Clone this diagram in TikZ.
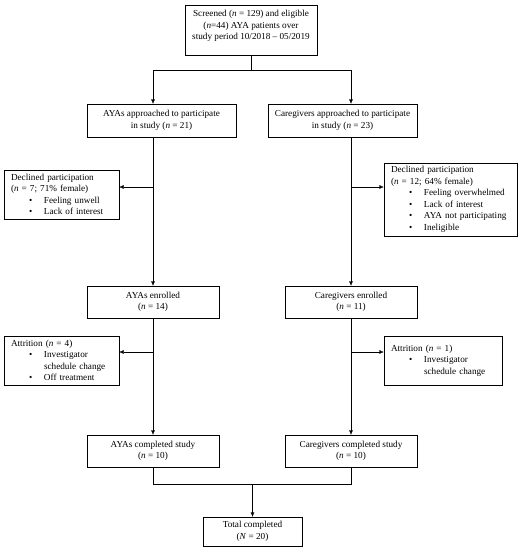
\documentclass[tikz,border=0pt]{standalone}
\usepackage{fontspec}
\setmainfont{Liberation Serif}
\usepackage{tikz}
\usetikzlibrary{arrows.meta}

\newcommand{\bitem}[1]{\hspace*{18pt}\makebox[15pt][l]{\textbullet}#1}
\newcommand{\bmore}[1]{\hspace*{33pt}#1}

\tikzset{
    box/.style = {draw, rectangle, inner sep=2pt, align=center},
    listbox/.style = {draw, rectangle, inner xsep=7pt, inner ysep=2pt, align=left},
}

\begin{document}
\begin{tikzpicture}[x=1pt, y=-1pt, font=\fontsize{9.2}{11.5}\selectfont, >={Latex[length=4.5pt,width=4pt]}]
        \useasboundingbox (0, 0) rectangle (521, 550);
        % boxes
        \node (screen) at (251, 30) [box, minimum width=132pt, minimum height=50pt] {Screened (\textit{n} = 129) and eligible\\(\textit{n}=44) AYA patients over\\study period 10/2018 -- 05/2019\\[-2pt]};
        \node (ayaapp) at (161.5, 120.5) [box, minimum width=149pt, minimum height=33pt] {AYAs approached to participate\\in study (\textit{n} = 21)};
        \node (cgapp) at (342.5, 120.5) [box, minimum width=149pt, minimum height=33pt] {Caregivers approached to participate\\in study (\textit{n} = 23)};
        \node (decl) at (61.5, 194.5) [listbox, text width=101pt, minimum height=49pt] {Declined participation\\(\textit{n} = 7; 71\% female)\\\bitem{Feeling unwell}\\\bitem{Lack of interest}};
        \node (decr) at (450.5, 199.5) [listbox, text width=119pt, minimum height=73pt] {Declined participation\\(\textit{n} = 12; 64\% female)\\\bitem{Feeling overwhelmed}\\\bitem{Lack of interest}\\\bitem{AYA not participating}\\\bitem{Ineligible}};
        \node (ayaenr) at (153, 302) [box, minimum width=132pt, minimum height=32pt] {AYAs enrolled\\(\textit{n} = 14)};
        \node (cgenr) at (351, 302) [box, minimum width=132pt, minimum height=32pt] {Caregivers enrolled\\(\textit{n} = 11)};
        \node (attl) at (61.5, 360.5) [listbox, text width=101pt, minimum height=49pt] {Attrition (\textit{n} = 4)\\\bitem{Investigator}\\\bmore{schedule change}\\\bitem{Off treatment}};
        \node (attr) at (443, 360.5) [listbox, text width=104pt, minimum height=49pt] {Attrition (\textit{n} = 1)\\\bitem{Investigator}\\\bmore{schedule change}};
        \node (ayacomp) at (153, 451) [box, minimum width=132pt, minimum height=32pt] {AYAs completed study\\(\textit{n} = 10)};
        \node (cgcomp) at (351, 451) [box, minimum width=132pt, minimum height=32pt] {Caregivers completed study\\(\textit{n} = 10)};
        \node (total) at (252.5, 531.5) [box, minimum width=99pt, minimum height=29pt] {Total completed\\(\textit{N} = 20)};
        % joints
        \coordinate (mid) at (251, 70);
        \coordinate (lsplit) at (153, 70);
        \coordinate (rsplit) at (351, 70);
        \coordinate (ldecl) at (153, 187);
        \coordinate (rdecl) at (351, 187);
        \coordinate (latt) at (153, 352);
        \coordinate (ratt) at (351, 352);
        \coordinate (merge) at (252.5, 484);
        % connectors
        \draw (screen.south) -- (mid);
        \draw (lsplit) -- (rsplit);
        \draw [->] (lsplit) -- (lsplit |- ayaapp.north);
        \draw [->] (rsplit) -- (rsplit |- cgapp.north);
        \draw [->] (lsplit |- ayaapp.south) -- (ayaenr.north);
        \draw [->] (rsplit |- cgapp.south) -- (cgenr.north);
        \draw [->] (ldecl) -- (ldecl -| decl.east);
        \draw [->] (rdecl) -- (rdecl -| decr.west);
        \draw [->] (ayaenr) -- (ayacomp);
        \draw [->] (cgenr) -- (cgcomp);
        \draw [->] (latt) -- (latt -| attl.east);
        \draw [->] (ratt) -- (ratt -| attr.west);
        \draw (ayacomp.south) -- (ayacomp.south |- merge) -- (cgcomp.south |- merge) -- (cgcomp.south);
        \draw [->] (merge) -- (total.north);
    \end{tikzpicture}
\end{document}
